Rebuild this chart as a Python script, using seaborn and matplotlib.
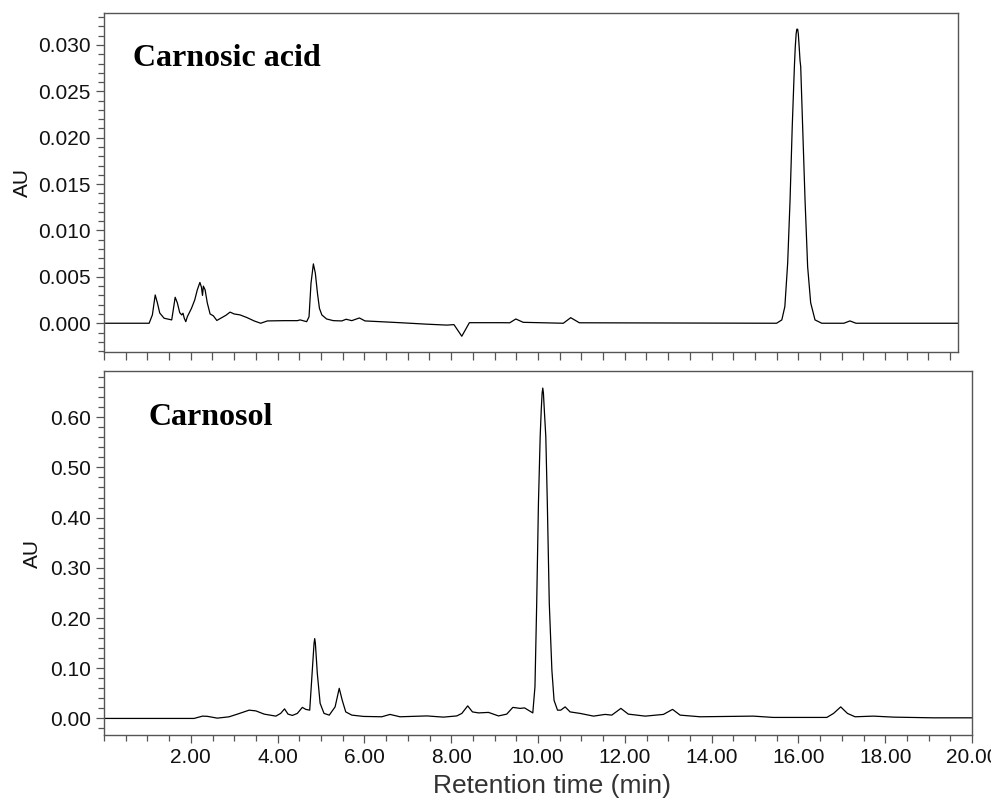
import matplotlib
matplotlib.use("Agg")
import matplotlib.pyplot as plt
from matplotlib.ticker import MultipleLocator, FixedLocator, FormatStrFormatter
import seaborn as sns

# Carnosic acid standard chromatogram (time in min, absorbance in AU)
acid_time = [
    0.00, 1.04, 1.115, 1.18, 1.23, 1.285, 1.385, 1.56, 1.59, 1.64,
    1.69, 1.745, 1.79, 1.82, 1.85, 1.885, 1.92, 2.015, 2.09, 2.15,
    2.21, 2.245, 2.27, 2.29, 2.33, 2.38, 2.445, 2.52, 2.60, 2.69,
    2.81, 2.905, 3.00, 3.135, 3.30, 3.46, 3.61, 3.765, 4.15, 4.455,
    4.52, 4.67, 4.725, 4.77, 4.825, 4.87, 4.92, 4.965, 5.02, 5.13,
    5.285, 5.48, 5.58, 5.71, 5.885, 6.015, 6.36, 6.82, 7.44, 7.90,
    8.065, 8.245, 8.42, 9.13, 9.35, 9.49, 9.66, 10.585, 10.755, 10.955,
    15.50, 15.62, 15.69, 15.755, 15.81, 15.86, 15.91, 15.93, 15.95, 15.965,
    15.985, 16.00, 16.02, 16.04, 16.055, 16.10, 16.155, 16.215, 16.285, 16.385,
    16.54, 17.05, 17.19, 17.33, 19.68,
]
acid_au = [
    0.0, 0.0, 0.0009, 0.00305, 0.0022, 0.0011, 0.00054, 0.00036, 0.00125, 0.0028,
    0.0022, 0.00114, 0.0009, 0.00108, 0.00054, 0.00017, 0.0007, 0.0016, 0.0025, 0.0036,
    0.0044, 0.0039, 0.0030, 0.0040, 0.0036, 0.0022, 0.0010, 0.0008, 0.0003, 0.00054,
    0.00086, 0.0012, 0.0010, 0.0009, 0.0006, 0.00025, 0.0, 0.00025, 0.00028, 0.00028,
    0.00036, 0.00017, 0.0007, 0.0043, 0.0064, 0.0054, 0.0032, 0.0016, 0.0009, 0.00046,
    0.00028, 0.00025, 0.00043, 0.00028, 0.00057, 0.00025, 0.00017, 0.00006, -0.0001, -0.0002,
    -0.00015, -0.0014, 0.00006, 0.00006, 0.00005, 0.00046, 0.0001, 0.0, 0.0006, 0.00005,
    0.0, 0.00036, 0.0018, 0.0065, 0.0133, 0.0212, 0.0277, 0.0298, 0.0312, 0.0317,
    0.0317, 0.0312, 0.0298, 0.0283, 0.0277, 0.0212, 0.0133, 0.0061, 0.0022, 0.00036,
    0.0, 0.0, 0.00025, 0.0, 0.0,
]

# Carnosol standard chromatogram (time in min, absorbance in AU)
sol_time = [
    0.00, 2.075, 2.27, 2.38, 2.61, 2.88, 3.075, 3.345, 3.50, 3.69,
    3.96, 4.07, 4.16, 4.24, 4.34, 4.455, 4.57, 4.65, 4.74, 4.795,
    4.84, 4.855, 4.87, 4.915, 4.98, 5.07, 5.19, 5.325, 5.42, 5.49,
    5.57, 5.71, 5.98, 6.40, 6.59, 6.82, 7.44, 7.82, 8.13, 8.245,
    8.38, 8.49, 8.63, 8.86, 9.09, 9.28, 9.42, 9.59, 9.69, 9.88,
    9.93, 9.97, 10.01, 10.05, 10.075, 10.095, 10.11, 10.125, 10.145, 10.18,
    10.215, 10.26, 10.32, 10.37, 10.45, 10.525, 10.625, 10.74, 10.97, 11.28,
    11.545, 11.70, 11.91, 12.08, 12.47, 12.89, 13.10, 13.275, 13.735, 14.96,
    15.42, 16.655, 16.81, 16.975, 17.13, 17.305, 17.73, 18.19, 19.11, 20.0,
]
sol_au = [
    0.0, 0.0, 0.0046, 0.0042, 0.0006, 0.0032, 0.0086, 0.0165, 0.015, 0.0086,
    0.0046, 0.010, 0.019, 0.0086, 0.006, 0.010, 0.022, 0.018, 0.0165, 0.0897,
    0.150, 0.159, 0.150, 0.0897, 0.030, 0.010, 0.0066, 0.023, 0.060, 0.036,
    0.013, 0.0066, 0.004, 0.0033, 0.008, 0.0033, 0.005, 0.0026, 0.005, 0.010,
    0.025, 0.013, 0.011, 0.012, 0.005, 0.0086, 0.022, 0.020, 0.021, 0.011,
    0.063, 0.229, 0.428, 0.561, 0.615, 0.648, 0.658, 0.648, 0.615, 0.561,
    0.428, 0.229, 0.096, 0.036, 0.0165, 0.0165, 0.023, 0.013, 0.010, 0.0046,
    0.008, 0.0066, 0.020, 0.0086, 0.0046, 0.008, 0.018, 0.0066, 0.0033, 0.0046,
    0.002, 0.002, 0.010, 0.023, 0.010, 0.0033, 0.0046, 0.0026, 0.0012, 0.0012,
]

assert len(acid_time) == len(acid_au)
assert len(sol_time) == len(sol_au)

acid_label = "Carnosic acid"
sol_label = "Carnosol"
y_label = "AU"
x_label = "Retention time (min)"
x_major = [2, 4, 6, 8, 10, 12, 14, 16, 18, 20]

sns.set_style("ticks")
plt.rcParams["font.family"] = ["Liberation Sans", "DejaVu Sans"]

frame = "#555555"
fig = plt.figure(figsize=(9.91, 8.01), dpi=100)
ax1 = fig.add_axes([104 / 991, 1 - 352 / 801, 854 / 991, 339 / 801])
ax2 = fig.add_axes([104 / 991, 1 - 735 / 801, 868 / 991, 364 / 801])

sns.lineplot(x=acid_time, y=acid_au, ax=ax1, color="black", linewidth=0.9,
             estimator=None, sort=False)
sns.lineplot(x=sol_time, y=sol_au, ax=ax2, color="black", linewidth=0.9,
             estimator=None, sort=False)

for ax in (ax1, ax2):
    for sp in ax.spines.values():
        sp.set_visible(True)
        sp.set_color(frame)
        sp.set_linewidth(1.0)
    ax.tick_params(which="both", direction="out", color=frame, width=0.9,
                   labelsize=15, labelcolor="#111111", top=False, right=False)
    ax.tick_params(which="major", length=6)
    ax.tick_params(which="minor", length=4)

# Upper panel
ax1.set_xlim(0, 19.68)
ax1.set_ylim(-0.0031, 0.03345)
ax1.xaxis.set_major_locator(MultipleLocator(0.5))
ax1.tick_params(axis="x", labelbottom=False, length=6)
ax1.yaxis.set_major_locator(MultipleLocator(0.005))
ax1.yaxis.set_minor_locator(MultipleLocator(0.001))
ax1.yaxis.set_major_formatter(FormatStrFormatter("%.3f"))
ax1.set_xlabel("")
ax1.set_ylabel(y_label, fontsize=15, color="#111111")
ax1.yaxis.set_label_coords(-0.0843, 0.5)
ax1.text(0.034, 0.844, acid_label, transform=ax1.transAxes,
         fontsize=23, fontweight="bold", family="Liberation Serif",
         ha="left", va="baseline", color="black")

# Lower panel
ax2.set_xlim(0, 20.0)
ax2.set_ylim(-0.033, 0.692)
ax2.xaxis.set_major_locator(FixedLocator(x_major))
ax2.xaxis.set_minor_locator(MultipleLocator(0.5))
ax2.xaxis.set_major_formatter(FormatStrFormatter("%.2f"))
ax2.yaxis.set_major_locator(MultipleLocator(0.1))
ax2.yaxis.set_minor_locator(MultipleLocator(0.02))
ax2.yaxis.set_major_formatter(FormatStrFormatter("%.2f"))
ax2.set_ylabel(y_label, fontsize=15, color="#111111")
ax2.yaxis.set_label_coords(-0.0714, 0.5)
ax2.set_xlabel(x_label, fontsize=19, color="#333333")
ax2.xaxis.set_label_coords(0.5167, -0.108)
ax2.text(0.0507, 0.852, sol_label, transform=ax2.transAxes,
         fontsize=23, fontweight="bold", family="Liberation Serif",
         ha="left", va="baseline", color="black")

fig.savefig("out.png", dpi=100)
